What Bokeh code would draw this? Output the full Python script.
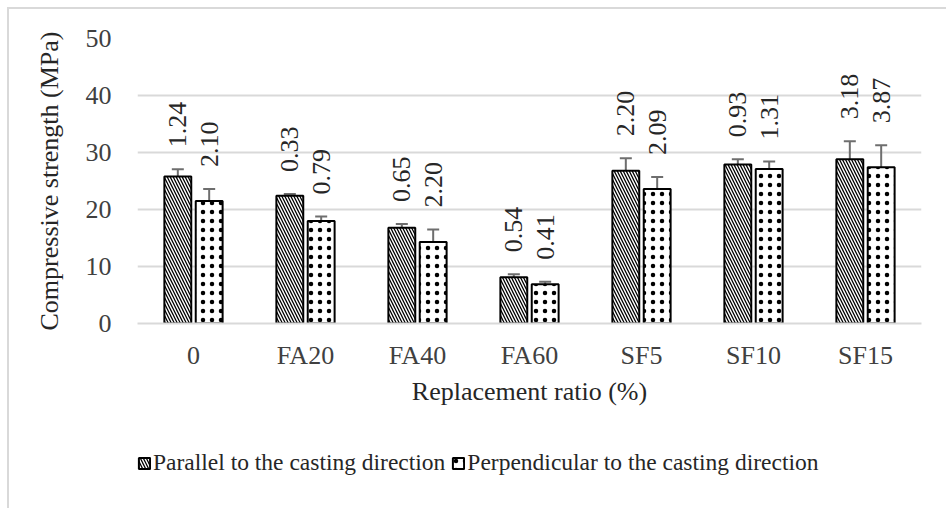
import math
from bokeh.plotting import figure
from bokeh.layouts import column
from bokeh.models import (ColumnDataSource, FactorRange, Whisker, TeeHead, Legend,
                          LegendItem, FixedTicker)
from bokeh.transform import dodge
from bokeh.core.properties import value
from bokeh.embed import file_html
from bokeh.resources import INLINE

categories = ["0", "FA20", "FA40", "FA60", "SF5", "SF10", "SF15"]
parallel = [25.8, 22.4, 16.8, 8.1, 26.8, 27.9, 28.8]
parallel_err = [1.24, 0.33, 0.65, 0.54, 2.20, 0.93, 3.18]
perpendicular = [21.5, 18.0, 14.3, 6.9, 23.6, 27.1, 27.4]
perpendicular_err = [2.10, 0.79, 2.20, 0.41, 2.09, 1.31, 3.87]
y_ticks = [0, 10, 20, 30, 40, 50]
series_names = ["Parallel to the casting direction", "Perpendicular to the casting direction"]

FONT = "Liberation Serif"
FS = "26px"

src_par = ColumnDataSource(dict(
    cat=categories, val=parallel,
    lo=[v - e for v, e in zip(parallel, parallel_err)],
    hi=[v + e for v, e in zip(parallel, parallel_err)],
    lab=["%.2f" % e for e in parallel_err]))
src_per = ColumnDataSource(dict(
    cat=categories, val=perpendicular,
    lo=[v - e for v, e in zip(perpendicular, perpendicular_err)],
    hi=[v + e for v, e in zip(perpendicular, perpendicular_err)],
    lab=["%.2f" % e for e in perpendicular_err]))

PAR_STYLE = dict(fill_color="white", line_color="black", line_width=2,
                 hatch_pattern="left_diagonal_line", hatch_color="black",
                 hatch_scale=6, hatch_weight=1.3)
PER_STYLE = dict(fill_color="white", line_color="black", line_width=2,
                 hatch_pattern="dot", hatch_color="black",
                 hatch_scale=9, hatch_weight=1.3)

p = figure(x_range=FactorRange(*categories, range_padding=0), y_range=(0, 50),
           width=937, height=430, output_backend="svg", toolbar_location=None,
           min_border_left=128, min_border_right=25, min_border_top=29,
           min_border_bottom=116)
p.outline_line_color = None
p.xgrid.grid_line_color = None
p.ygrid.grid_line_color = "#d9d9d9"
p.ygrid.grid_line_width = 2
p.yaxis.ticker = FixedTicker(ticks=y_ticks)

OFF = 0.14
W = 0.24
p.vbar(x=dodge("cat", -OFF, range=p.x_range), top="val", width=W, source=src_par, **PAR_STYLE)
p.vbar(x=dodge("cat", OFF, range=p.x_range), top="val", width=W, source=src_per, **PER_STYLE)

for src, off in ((src_par, -OFF), (src_per, OFF)):
    w = Whisker(base=dodge("cat", off, range=p.x_range), upper="hi", lower="lo",
                source=src, line_color="#6e6e6e", line_width=2,
                upper_head=TeeHead(size=12, line_color="#6e6e6e", line_width=2),
                lower_head=TeeHead(size=12, line_color="#6e6e6e", line_width=2))
    p.add_layout(w)
    p.text(x=dodge("cat", off, range=p.x_range), y="hi", text="lab", source=src,
           angle=math.pi / 2, text_align="left", text_baseline="middle",
           y_offset=-22, text_font=value(FONT), text_font_size=FS,
           text_color="#262626")

for ax in (p.xaxis, p.yaxis):
    ax.major_label_text_font = FONT
    ax.major_label_text_font_size = FS
    ax.major_label_text_color = "#404040"
    ax.axis_label_text_font = FONT
    ax.axis_label_text_font_size = FS
    ax.axis_label_text_font_style = "normal"
    ax.axis_label_text_color = "#262626"
    ax.major_tick_line_color = None
    ax.minor_tick_line_color = None

p.yaxis.axis_line_color = None
p.yaxis.major_label_standoff = 20
p.yaxis.axis_label = "Compressive strength (MPa)"
p.yaxis.axis_label_standoff = 19
p.xaxis.axis_line_color = "#d9d9d9"
p.xaxis.axis_line_width = 2
p.xaxis.major_label_standoff = 11
p.xaxis.axis_label = "Replacement ratio (%)"
p.xaxis.axis_label_standoff = 4

# legend strip below the chart (keys taken from non-drawn proxy bars)
leg = figure(width=937, height=69, output_backend="svg", toolbar_location=None,
             x_range=(0, 1), y_range=(0, 1), min_border=0)
leg.axis.visible = False
leg.grid.visible = False
leg.outline_line_color = None
nan = float("nan")
l1 = leg.vbar(x=[nan], top=[nan], bottom=[nan], width=0.1, **PAR_STYLE)
l2 = leg.vbar(x=[nan], top=[nan], bottom=[nan], width=0.1, **PER_STYLE)
legend = Legend(items=[LegendItem(label=series_names[0], renderers=[l1]),
                       LegendItem(label=series_names[1], renderers=[l2])],
                orientation="horizontal", location=(0, 32),
                label_text_font=FONT, label_text_font_size="23.5px", label_text_color="#262626",
                glyph_width=14, glyph_height=14, label_standoff=2, spacing=6,
                padding=0, margin=0, border_line_color=None, background_fill_alpha=0)
leg.add_layout(legend, "center")

layout = column(p, leg, spacing=0)
layout.styles = {"border-left": "2px solid #d9d9d9", "border-top": "2px solid #d9d9d9",
                 "margin-left": "7px", "margin-top": "7px"}

open("out.html", "w").write(file_html(layout, INLINE))
